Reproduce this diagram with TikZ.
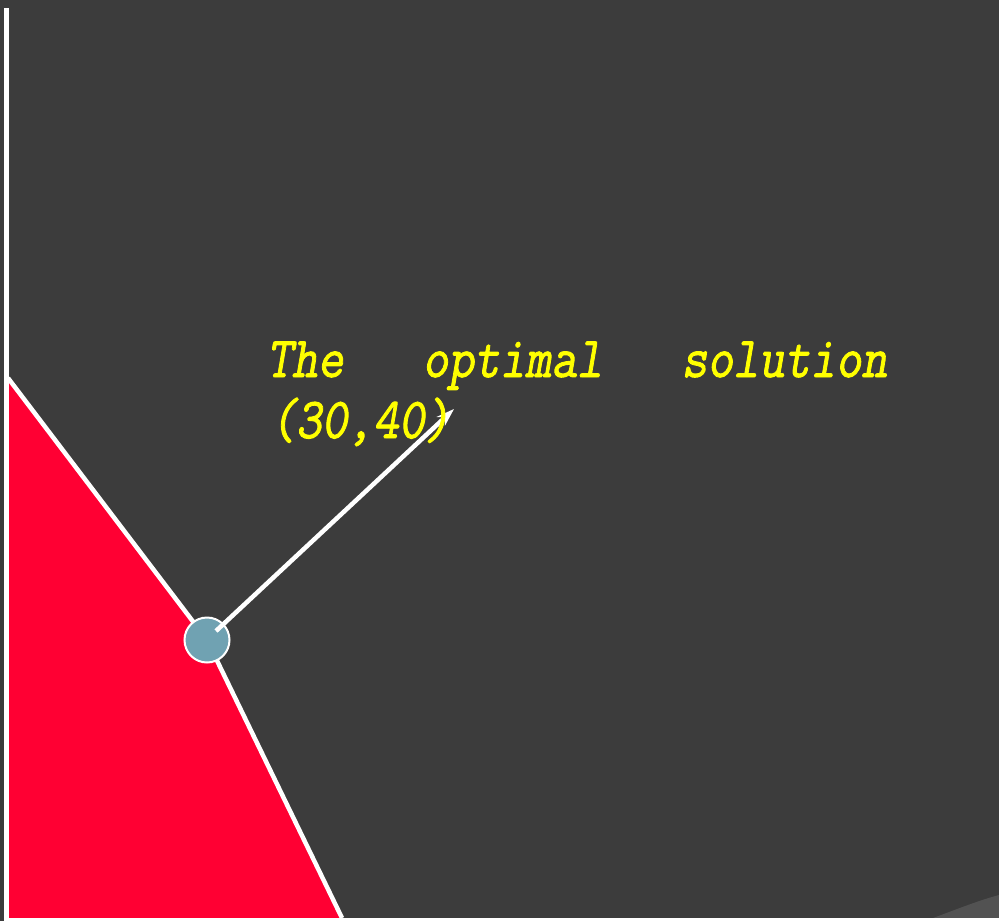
\documentclass[tikz,border=0pt]{standalone}
\usepackage{fontspec}
\newfontfamily\labelfont[FakeSlant=0.2,FakeBold=1.6]{Latin Modern Mono}
\usetikzlibrary{arrows.meta}
\definecolor{bg}{HTML}{3C3C3C}
\definecolor{region}{HTML}{FF0033}
\definecolor{pointfill}{HTML}{70A2B2}
\definecolor{labelyellow}{HTML}{FFFF00}
\definecolor{shadegray}{HTML}{525252}
\tikzset{
  axisline/.style={white, line width=5pt},
  boundline/.style={white, line width=4.5pt},
  pointer/.style={white, line width=4.5pt, -{Stealth[length=18pt,width=12pt]}},
  labeltext/.style={text=labelyellow, inner sep=0pt, font=\labelfont\fontsize{58}{64}\selectfont},
}
\begin{document}
\begin{tikzpicture}[x=1pt,y=1pt]
\useasboundingbox (0,0) rectangle (999,-921);
\fill[bg] (0,0) rectangle (999,-921);
\fill[shadegray] (925,-921) .. controls (960,-908) and (980,-900) .. (999,-895) -- (999,-921) -- cycle;
% feasible region
\coordinate (top) at (8,-378);
\coordinate (opt) at (207,-640);
\coordinate (bot) at (342,-918);
\fill[region] (top) -- (opt) -- (bot) -- (8,-918) -- cycle;
\draw[boundline] (top) -- (opt) -- (bot);
% axes
\coordinate (yaxtop) at (6.5,-8);
\coordinate (orig) at (6.5,-921);
\coordinate (xaxend) at (999,-919.5);
\draw[axisline] (yaxtop) -- (orig);
\draw[white, line width=3pt] (5,-919.5) -- (xaxend);
% optimal point
\node[circle, draw=white, line width=2pt, fill=pointfill, minimum size=45pt, inner sep=0pt] (pt) at (opt) {};
\coordinate (arrstart) at (216,-631);
\coordinate (arrtip) at (454,-409);
\draw[pointer] (arrstart) -- (arrtip);
% label
\node[labeltext, anchor=base west] (lab1) at (266,-377) {\scalebox{0.86}[1]{\hbox to 722pt{The\hfill optimal\hfill solution}}};
\node[labeltext, anchor=base west] (lab2) at (270,-438) {\scalebox{0.86}[1]{(30,40)}};
\end{tikzpicture}
\end{document}
